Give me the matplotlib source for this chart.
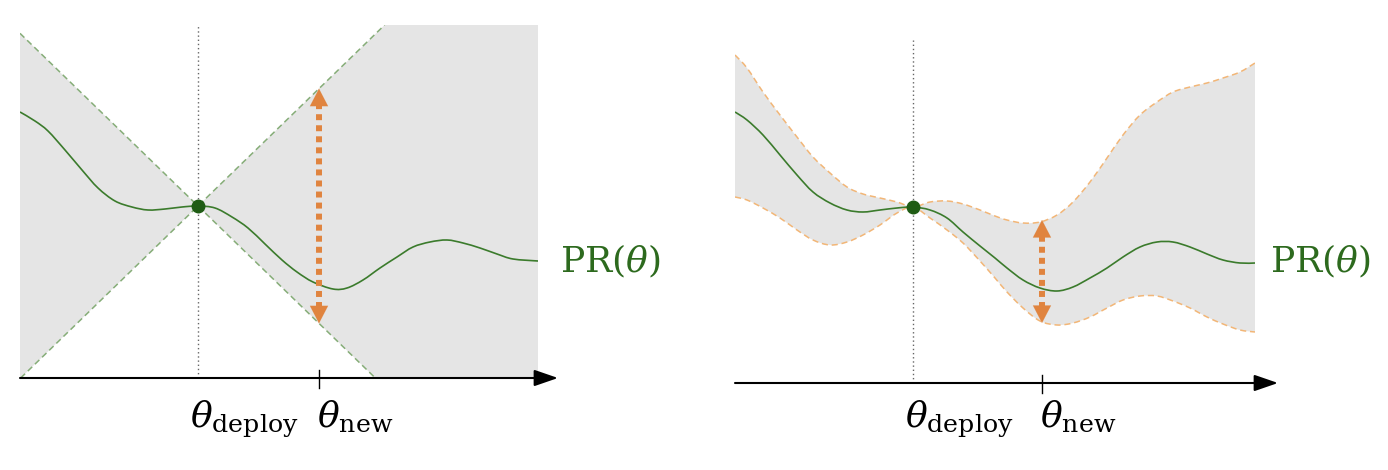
import matplotlib.pyplot as plt
from matplotlib.path import Path
from matplotlib.patches import PathPatch

plt.rcParams['mathtext.fontset'] = 'dejavuserif'
plt.rcParams['font.family'] = 'DejaVu Serif'

# ---- values (arbitrary units, x along theta, y = PR) ----
# left panel: PR curve and a linear cone around theta_deploy
left_theta = [0, 15, 28, 45, 62, 78, 95, 112, 128, 145, 162, 178, 195, 212, 228, 245,
              262, 277, 293, 313, 327, 343, 360, 377, 393, 410, 427, 443, 460, 477, 493, 518]
left_pr = [266, 257, 247, 228, 208, 190, 177, 171, 168, 169, 171, 172, 170, 161, 150, 134,
           118, 106, 96, 89, 90, 98, 110, 121, 131, 136, 138, 135, 130, 124, 119, 117]
left_deploy = 178
left_pr_deploy = 172
cone_slope = 0.97
left_new = 299

# right panel: PR curve with an upper / lower envelope
right_theta = [0, 12, 28, 45, 62, 78, 95, 112, 128, 145, 162, 178, 195, 212, 228, 245, 260,
               272, 288, 305, 322, 338, 355, 372, 388, 405, 422, 438, 455, 472, 488, 505, 520]
right_pr = [271, 263, 248, 228, 208, 191, 180, 173, 171, 173, 175, 176, 173, 165, 151, 137, 125,
            115, 103, 95, 92, 96, 105, 115, 126, 136, 141, 141, 136, 129, 123, 120, 120]
right_upper = [328, 315, 291, 268, 246, 226, 210, 196, 189, 185, 181, 176, 181, 182, 179, 173, 167,
               163, 160, 161, 168, 181, 201, 225, 248, 268, 281, 291, 296, 300, 305, 311, 320]
right_lower = [186, 183, 175, 165, 153, 143, 138, 141, 148, 158, 170, 176, 165, 153, 140, 122, 105,
               91, 75, 62, 58, 60, 66, 75, 83, 87, 87, 82, 75, 66, 59, 53, 51]
right_deploy = 178
right_pr_deploy = 176
right_new = 307
right_arrow = (60, 163)

GREEN = '#3b7b2c'
DOT = '#1f5c14'
TEXT_GREEN = '#2d6a1e'
ORANGE = '#e0843f'
LIGHT_ORANGE = '#f2b677'
GREY = '#e5e5e5'

W, H = 1388, 470
fig = plt.figure(figsize=(W / 100, H / 100), dpi=100)


def bezier(xs, ys, first=True):
    # smooth curve through the read points (Catmull-Rom as cubic Bezier pieces)
    pts = list(zip(xs, ys))
    n = len(pts)
    verts, codes = [pts[0]], [Path.MOVETO if first else Path.LINETO]
    for i in range(n - 1):
        p0 = pts[max(i - 1, 0)]
        p1 = pts[i]
        p2 = pts[i + 1]
        p3 = pts[min(i + 2, n - 1)]
        c1 = (p1[0] + (p2[0] - p0[0]) / 6, p1[1] + (p2[1] - p0[1]) / 6)
        c2 = (p2[0] - (p3[0] - p1[0]) / 6, p2[1] - (p3[1] - p1[1]) / 6)
        verts += [c1, c2, p2]
        codes += [Path.CURVE4] * 3
    return verts, codes


def smooth_line(ax, xs, ys, **kw):
    v, c = bezier(xs, ys)
    ax.add_patch(PathPatch(Path(v, c), fill=False, **kw))


def add_axes(px_left, px_axis, px_top, px_width):
    ax = fig.add_axes([px_left / W, (H - px_axis) / H, px_width / W, (px_axis - px_top) / H])
    ax.set_xlim(0, px_width)
    ax.set_ylim(0, px_axis - px_top)
    ax.axis('off')
    return ax


def double_arrow(ax, x, lo, hi, head=17):
    ax.plot([x, x], [lo + head - 2, hi - head + 2], color=ORANGE, lw=4.3,
            linestyle=(0, (1, 0.85)), solid_capstyle='butt', dash_capstyle='butt', zorder=4)
    for tip, base in [(hi, hi - head), (lo, lo + head)]:
        ax.annotate('', xy=(x, tip), xytext=(x, base),
                    arrowprops=dict(arrowstyle='-|>,head_length=1.25,head_width=0.65',
                                    color=ORANGE, lw=0.1, shrinkA=0, shrinkB=0,
                                    mutation_scale=10), zorder=5)


def axis_and_labels(ax, deploy, new, tip, base_y):
    ax.annotate('', xy=(tip, 0), xytext=(0, 0), annotation_clip=False,
                arrowprops=dict(arrowstyle='-|>,head_length=1.45,head_width=0.5',
                                color='black', lw=1.5, shrinkA=0, shrinkB=0,
                                mutation_scale=10))
    ax.plot([new, new], [-10, 8], color='black', lw=1, clip_on=False)
    ax.axvline(deploy, color='#666666', lw=1.0, linestyle=(0, (1, 2)), zorder=1)
    ax.text(deploy - 8, base_y, r'$\theta_{\mathrm{deploy}}$', fontsize=26,
            ha='left', va='baseline', clip_on=False)
    ax.text(new - 2, base_y, r'$\theta_{\mathrm{new}}$', fontsize=26,
            ha='left', va='baseline', clip_on=False)


# ---------------- left panel ----------------
ax1 = add_axes(20, 378, 25, 518)
xs = [0, left_deploy, 518]
up = [left_pr_deploy + cone_slope * abs(x - left_deploy) for x in xs]
lo = [left_pr_deploy - cone_slope * abs(x - left_deploy) for x in xs]
ax1.fill_between(xs, lo, up, color=GREY, lw=0, zorder=0)
for s in (cone_slope, -cone_slope):
    ax1.axline((left_deploy, left_pr_deploy), slope=s, color='#86ad78', lw=1.1,
               linestyle=(0, (4, 2.5)), zorder=2)
smooth_line(ax1, left_theta, left_pr, edgecolor=GREEN, lw=1.2, zorder=3)
ax1.plot([left_deploy], [left_pr_deploy], 'o', color=DOT, ms=9, zorder=6)
d = cone_slope * (left_new - left_deploy)
double_arrow(ax1, left_new, left_pr_deploy - d, left_pr_deploy + d)
axis_and_labels(ax1, left_deploy, left_new, 538, -49)
ax1.text(540, 106, r'$\mathrm{PR}(\theta)$', fontsize=26, color=TEXT_GREEN,
         ha='left', va='baseline', clip_on=False)

# ---------------- right panel ----------------
ax2 = add_axes(735, 383, 40, 520)
vu, cu = bezier(right_theta, right_upper)
vl, cl = bezier(right_theta[::-1], right_lower[::-1], first=False)
band = Path(vu + vl + [vu[0]], cu + cl + [Path.CLOSEPOLY])
ax2.add_patch(PathPatch(band, facecolor=GREY, lw=0, zorder=0))
smooth_line(ax2, right_theta, right_upper, edgecolor=LIGHT_ORANGE, lw=1.1,
            linestyle=(0, (4, 2.5)), zorder=2)
smooth_line(ax2, right_theta, right_lower, edgecolor=LIGHT_ORANGE, lw=1.1,
            linestyle=(0, (4, 2.5)), zorder=2)
smooth_line(ax2, right_theta, right_pr, edgecolor=GREEN, lw=1.2, zorder=3)
ax2.plot([right_deploy], [right_pr_deploy], 'o', color=DOT, ms=9, zorder=6)
double_arrow(ax2, right_new, right_arrow[0], right_arrow[1])
axis_and_labels(ax2, right_deploy, right_new, 543, -44)
ax2.text(535, 111, r'$\mathrm{PR}(\theta)$', fontsize=26, color=TEXT_GREEN,
         ha='left', va='baseline', clip_on=False)

fig.savefig('out.png', dpi=100)
